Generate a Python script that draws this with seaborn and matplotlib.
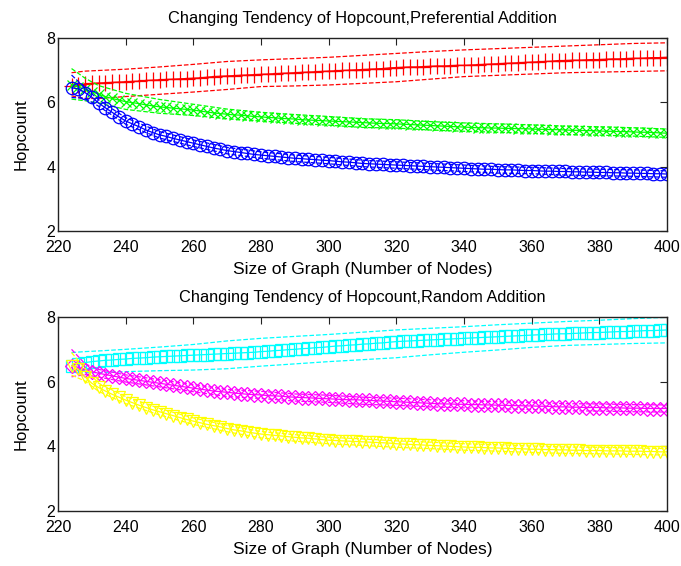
import numpy as np
import pandas as pd
import seaborn as sns
import matplotlib
matplotlib.use("Agg")
import matplotlib.pyplot as plt

# graph sizes (every 2nd node) for the mean curves
nodes = list(range(224, 401, 2))
# coarser grid for the dashed spread lines
nodes_b = [224, 228, 232, 240, 250, 260, 270, 280, 290, 300,
           310, 320, 330, 340, 350, 360, 370, 380, 390, 400]

# --- preferential addition ---
pref_red = [6.50, 6.55, 6.57, 6.59, 6.60, 6.61, 6.62, 6.63, 6.64, 6.65,
            6.66, 6.68, 6.69, 6.70, 6.71, 6.72, 6.73, 6.74, 6.75, 6.76,
            6.78, 6.80, 6.81, 6.82, 6.83, 6.84, 6.85, 6.86, 6.87, 6.88,
            6.89, 6.90, 6.91, 6.92, 6.93, 6.94, 6.95, 6.96, 6.97, 6.98,
            6.99, 7.00, 7.01, 7.02, 7.03, 7.04, 7.05, 7.07, 7.08, 7.09,
            7.10, 7.10, 7.11, 7.12, 7.13, 7.13, 7.14, 7.15, 7.15, 7.16,
            7.17, 7.18, 7.19, 7.20, 7.21, 7.22, 7.23, 7.24, 7.25, 7.26,
            7.27, 7.28, 7.30, 7.30, 7.31, 7.31, 7.32, 7.33, 7.33, 7.34,
            7.35, 7.35, 7.36, 7.37, 7.37, 7.38, 7.39, 7.39, 7.40]
pref_green = [6.55, 6.48, 6.40, 6.33, 6.25, 6.18, 6.12, 6.07, 6.02, 5.99,
              5.96, 5.92, 5.89, 5.86, 5.84, 5.82, 5.80, 5.78, 5.76, 5.73,
              5.70, 5.67, 5.65, 5.63, 5.61, 5.60, 5.58, 5.56, 5.55, 5.53,
              5.52, 5.50, 5.49, 5.48, 5.46, 5.45, 5.44, 5.43, 5.42, 5.41,
              5.40, 5.39, 5.38, 5.37, 5.36, 5.35, 5.34, 5.34, 5.33, 5.32,
              5.31, 5.30, 5.29, 5.28, 5.27, 5.26, 5.25, 5.24, 5.23, 5.22,
              5.21, 5.21, 5.20, 5.20, 5.19, 5.19, 5.18, 5.18, 5.17, 5.16,
              5.16, 5.15, 5.15, 5.14, 5.13, 5.13, 5.12, 5.12, 5.11, 5.10,
              5.10, 5.09, 5.09, 5.08, 5.07, 5.07, 5.06, 5.05, 5.04]
pref_blue = [6.45, 6.42, 6.30, 6.16, 5.98, 5.83, 5.69, 5.55, 5.42, 5.33,
             5.24, 5.14, 5.06, 4.99, 4.94, 4.88, 4.83, 4.78, 4.73, 4.68,
             4.63, 4.58, 4.54, 4.50, 4.47, 4.44, 4.41, 4.38, 4.36, 4.34,
             4.32, 4.30, 4.28, 4.26, 4.25, 4.23, 4.22, 4.20, 4.19, 4.17,
             4.15, 4.14, 4.12, 4.10, 4.09, 4.08, 4.07, 4.06, 4.05, 4.04,
             4.03, 4.02, 4.01, 4.00, 3.99, 3.98, 3.97, 3.96, 3.95, 3.94,
             3.93, 3.92, 3.92, 3.91, 3.90, 3.90, 3.89, 3.88, 3.88, 3.87,
             3.86, 3.86, 3.85, 3.85, 3.84, 3.84, 3.83, 3.83, 3.82, 3.82,
             3.81, 3.81, 3.80, 3.80, 3.79, 3.79, 3.78, 3.78, 3.77]

red_hi = [6.92, 6.97, 6.99, 7.03, 7.10, 7.18, 7.27, 7.32, 7.36, 7.40,
          7.46, 7.52, 7.58, 7.63, 7.67, 7.71, 7.75, 7.79, 7.83, 7.85]
red_lo = [6.20, 6.12, 6.12, 6.18, 6.25, 6.32, 6.40, 6.49, 6.51, 6.54,
          6.59, 6.64, 6.72, 6.80, 6.84, 6.88, 6.92, 6.94, 6.96, 6.98]
green_hi = [7.05, 6.75, 6.52, 6.28, 6.09, 5.94, 5.79, 5.69, 5.62, 5.56,
            5.49, 5.46, 5.40, 5.36, 5.33, 5.30, 5.26, 5.24, 5.21, 5.17]
green_lo = [6.10, 6.05, 5.98, 5.78, 5.66, 5.59, 5.49, 5.42, 5.35, 5.29,
            5.22, 5.20, 5.14, 5.10, 5.07, 5.04, 5.00, 4.98, 4.95, 4.91]
blue_hi = [6.85, 6.45, 6.08, 5.52, 5.09, 4.83, 4.60, 4.46, 4.36, 4.29,
           4.20, 4.15, 4.10, 4.05, 4.00, 3.98, 3.94, 3.92, 3.90, 3.87]
blue_lo = [6.15, 6.12, 5.88, 5.32, 4.89, 4.63, 4.40, 4.26, 4.16, 4.09,
           4.00, 3.95, 3.90, 3.85, 3.80, 3.78, 3.74, 3.72, 3.70, 3.67]

# --- random addition ---
rand_cyan = [6.50, 6.56, 6.59, 6.62, 6.64, 6.66, 6.67, 6.69, 6.70, 6.72,
             6.73, 6.74, 6.76, 6.77, 6.78, 6.79, 6.80, 6.81, 6.82, 6.83,
             6.84, 6.85, 6.86, 6.87, 6.88, 6.89, 6.90, 6.91, 6.93, 6.94,
             6.96, 6.97, 6.99, 7.00, 7.02, 7.03, 7.05, 7.06, 7.08, 7.10,
             7.11, 7.13, 7.14, 7.16, 7.17, 7.19, 7.20, 7.22, 7.24, 7.25,
             7.26, 7.27, 7.28, 7.29, 7.30, 7.31, 7.32, 7.33, 7.34, 7.35,
             7.36, 7.37, 7.38, 7.39, 7.40, 7.41, 7.42, 7.43, 7.44, 7.45,
             7.46, 7.47, 7.48, 7.48, 7.49, 7.50, 7.51, 7.52, 7.52, 7.53,
             7.54, 7.55, 7.55, 7.56, 7.57, 7.58, 7.58, 7.59, 7.60]
rand_magenta = [6.50, 6.44, 6.37, 6.31, 6.26, 6.22, 6.18, 6.14, 6.10, 6.07,
                6.04, 6.01, 5.98, 5.95, 5.92, 5.89, 5.86, 5.83, 5.80, 5.77,
                5.74, 5.71, 5.69, 5.67, 5.65, 5.63, 5.61, 5.60, 5.59, 5.57,
                5.56, 5.55, 5.53, 5.52, 5.51, 5.50, 5.49, 5.48, 5.47, 5.46,
                5.45, 5.44, 5.44, 5.43, 5.42, 5.41, 5.40, 5.39, 5.38, 5.37,
                5.36, 5.35, 5.34, 5.33, 5.32, 5.31, 5.31, 5.30, 5.30, 5.29,
                5.29, 5.28, 5.28, 5.27, 5.27, 5.26, 5.26, 5.25, 5.25, 5.24,
                5.24, 5.23, 5.22, 5.22, 5.21, 5.21, 5.20, 5.20, 5.20, 5.19,
                5.19, 5.19, 5.18, 5.18, 5.18, 5.17, 5.17, 5.17, 5.17]
rand_yellow = [6.50, 6.38, 6.15, 5.95, 5.82, 5.71, 5.61, 5.52, 5.43, 5.35,
               5.27, 5.20, 5.13, 5.07, 5.01, 4.95, 4.89, 4.83, 4.78, 4.73,
               4.68, 4.64, 4.60, 4.55, 4.51, 4.48, 4.44, 4.41, 4.38, 4.36,
               4.34, 4.32, 4.30, 4.28, 4.26, 4.25, 4.23, 4.21, 4.19, 4.18,
               4.17, 4.16, 4.15, 4.14, 4.13, 4.12, 4.11, 4.10, 4.08, 4.07,
               4.06, 4.05, 4.04, 4.03, 4.02, 4.01, 4.00, 3.99, 3.98, 3.97,
               3.97, 3.96, 3.95, 3.95, 3.94, 3.93, 3.93, 3.92, 3.91, 3.91,
               3.90, 3.90, 3.89, 3.89, 3.88, 3.88, 3.87, 3.87, 3.87, 3.86,
               3.86, 3.86, 3.85, 3.85, 3.85, 3.84, 3.84, 3.83, 3.83]

cyan_hi = [6.90, 6.93, 6.95, 7.00, 7.07, 7.15, 7.26, 7.34, 7.40, 7.46,
           7.53, 7.60, 7.65, 7.70, 7.76, 7.81, 7.86, 7.90, 7.95, 7.99]
cyan_lo = [6.30, 6.28, 6.28, 6.31, 6.34, 6.36, 6.40, 6.48, 6.55, 6.62,
           6.68, 6.74, 6.83, 6.91, 6.98, 7.06, 7.12, 7.15, 7.18, 7.20]
magenta_hi = [7.00, 6.55, 6.38, 6.21, 6.06, 5.91, 5.76, 5.70, 5.62, 5.58,
              5.52, 5.49, 5.44, 5.41, 5.38, 5.36, 5.32, 5.31, 5.29, 5.28]
magenta_lo = [6.15, 6.22, 6.14, 5.99, 5.84, 5.69, 5.54, 5.48, 5.40, 5.36,
              5.30, 5.27, 5.22, 5.19, 5.16, 5.14, 5.10, 5.09, 5.07, 5.06]
yellow_hi = [6.90, 6.40, 5.95, 5.54, 5.17, 4.88, 4.65, 4.46, 4.36, 4.28,
             4.23, 4.17, 4.13, 4.08, 4.05, 4.01, 3.98, 3.97, 3.95, 3.93]
yellow_lo = [6.20, 6.02, 5.70, 5.32, 4.97, 4.68, 4.45, 4.26, 4.16, 4.08,
             4.03, 3.97, 3.93, 3.88, 3.85, 3.81, 3.78, 3.77, 3.75, 3.73]

sns.set_theme(style="white")
plt.rcParams['font.family'] = ['Liberation Sans', 'DejaVu Sans']
plt.rcParams['xtick.direction'] = 'in'
plt.rcParams['ytick.direction'] = 'in'
plt.rcParams['text.color'] = 'black'
plt.rcParams['axes.labelcolor'] = 'black'
plt.rcParams['xtick.color'] = 'black'
plt.rcParams['ytick.color'] = 'black'

fig = plt.figure(figsize=(6.81, 5.66), dpi=100)
W, H = 681, 566
ax1 = fig.add_axes([58 / W, 1 - 231 / H, 609 / W, 193 / H])
ax2 = fig.add_axes([58 / W, 1 - 511 / H, 609 / W, 194 / H])


def draw(ax, mean, hi, lo, color, marker, ms):
    sns.lineplot(x=nodes_b, y=hi, ax=ax, color=color, linestyle="--",
                 linewidth=0.9, dashes=False)
    sns.lineplot(x=nodes_b, y=lo, ax=ax, color=color, linestyle="--",
                 linewidth=0.9, dashes=False)
    sns.lineplot(x=nodes, y=mean, ax=ax, color=color, marker=marker,
                 markersize=ms, markerfacecolor="none", markeredgecolor=color,
                 markeredgewidth=0.9, linewidth=0.9)


draw(ax1, pref_red, red_hi, red_lo, "#ff0000", "+", 11)
draw(ax1, pref_green, green_hi, green_lo, "#00ff00", "x", 7)
draw(ax1, pref_blue, blue_hi, blue_lo, "#0000ff", "o", 9)

draw(ax2, rand_cyan, cyan_hi, cyan_lo, "#00ffff", "s", 8.5)
draw(ax2, rand_magenta, magenta_hi, magenta_lo, "#ff00ff", "D", 7)
draw(ax2, rand_yellow, yellow_hi, yellow_lo, "#ffff00", "v", 9)

titles = ["Changing Tendency of Hopcount,Preferential Addition",
          "Changing Tendency of Hopcount,Random Addition"]
for ax, t in zip([ax1, ax2], titles):
    ax.set_xlim(220, 400)
    ax.set_ylim(2, 8)
    ax.set_xticks(range(220, 401, 20))
    ax.set_yticks([2, 4, 6, 8])
    ax.tick_params(axis="both", labelsize=11.5, length=5, width=0.8,
                   color="#222222", top=True, right=True)
    ax.tick_params(axis="x", pad=6.5)
    ax.tick_params(axis="y", pad=2)
    for s in ax.spines.values():
        s.set_color("#222222")
        s.set_linewidth(1.0)
        s.set_visible(True)
    ax.set_title(t, fontsize=11.8, pad=11)
    ax.set_xlabel("Size of Graph (Number of Nodes)", fontsize=12.5, labelpad=5)
    ax.set_ylabel("Hopcount", fontsize=12, labelpad=13)
    ax.set_facecolor("white")

fig.savefig("out.png", dpi=100, facecolor="white")
